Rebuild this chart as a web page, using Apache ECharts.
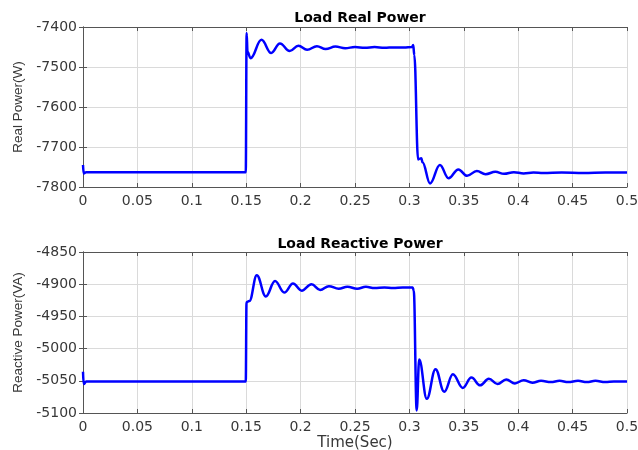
<!DOCTYPE html>
<html>
<head>
<meta charset="utf-8">
<script src="https://cdn.jsdelivr.net/npm/echarts@6/dist/echarts.min.js"></script>
<style>
  html, body { margin: 0; padding: 0; background: #fff; }
  #chart { width: 638px; height: 450px; }
</style>
</head>
<body>
<div id="chart"></div>
<script>
// values (time in s, power in W / VA)
const realTime = [0, 0.0006, 0.003, 0.1496, 0.1504, 0.1512, 0.154, 0.164, 0.173, 0.181, 0.190, 0.198,
  0.206, 0.215, 0.223, 0.232, 0.241, 0.250, 0.259, 0.268, 0.277, 0.286, 0.295, 0.3025, 0.3035, 0.3045,
  0.308, 0.311, 0.312, 0.319, 0.328, 0.336, 0.345, 0.353, 0.362, 0.370, 0.379, 0.387, 0.396, 0.405,
  0.414, 0.423, 0.440, 0.460, 0.480, 0.5]
const realPower = [-7745, -7766, -7763, -7763, -7415, -7462, -7478, -7432, -7465, -7441, -7460, -7447,
  -7457, -7448, -7455, -7449, -7453, -7450, -7452, -7450, -7452, -7451, -7451, -7450, -7445, -7470,
  -7731, -7728, -7738, -7791, -7745, -7778, -7756, -7772, -7760, -7768, -7762, -7767, -7763, -7766,
  -7764, -7765, -7764, -7765, -7764, -7764]

const reactTime = [0, 0.0006, 0.003, 0.1496, 0.1503, 0.153, 0.1597, 0.168, 0.1765, 0.185, 0.193, 0.201,
  0.210, 0.218, 0.226, 0.235, 0.243, 0.252, 0.260, 0.268, 0.277, 0.285, 0.294, 0.303, 0.304, 0.3067,
  0.309, 0.316, 0.324, 0.332, 0.340, 0.349, 0.357, 0.365, 0.373, 0.381, 0.389, 0.397, 0.405, 0.413,
  0.421, 0.430, 0.438, 0.446, 0.455, 0.463, 0.471, 0.480, 0.488, 0.5]
const reactPower = [-5036, -5055, -5051, -5051, -4928, -4926, -4886, -4919, -4895, -4913, -4899, -4910,
  -4900, -4909, -4903, -4907, -4904, -4907, -4904, -4906, -4905, -4906, -4905, -4905, -4910, -5096,
  -5017, -5078, -5032, -5067, -5040, -5061, -5045, -5057, -5047, -5055, -5048, -5054, -5049, -5053,
  -5050, -5052, -5050, -5052, -5050, -5052, -5050, -5052, -5051, -5051]

const titles = ['Load Real Power', 'Load Reactive Power']
const yNames = ['Real Power(W)', 'Reactive Power(VA)']

const font = 'DejaVu Sans'
const textColor = '#383838'
const axisColor = '#555'

let myChart = echarts.init(document.getElementById('chart'), null, {renderer: 'canvas'})

function pairs (xs, ys) {
  return xs.map((x, i) => [x, ys[i]])
}

function xAx (grid, top, name) {
  return {
    type: 'value',
    gridIndex: grid,
    position: top ? 'top' : 'bottom',
    min: 0,
    max: 0.5,
    interval: 0.05,
    name: name || '',
    nameLocation: 'middle',
    nameGap: 23,
    nameTextStyle: {fontFamily: font, fontSize: 15, color: textColor},
    axisLine: {show: true, onZero: false, lineStyle: {color: axisColor, width: 1}},
    axisTick: {show: true, inside: true, length: 4, lineStyle: {color: axisColor}},
    axisLabel: {
      show: !top,
      fontFamily: font,
      fontSize: 14,
      color: textColor,
      margin: 7,
      formatter: v => String(+v.toFixed(2))
    },
    splitLine: {show: !top, lineStyle: {color: '#dadada', width: 1}}
  }
}

function yAx (grid, right, min, max, step, name) {
  return {
    type: 'value',
    gridIndex: grid,
    position: right ? 'right' : 'left',
    min: min,
    max: max,
    interval: step,
    name: name || '',
    nameLocation: 'middle',
    nameGap: 54,
    nameTextStyle: {fontFamily: 'Liberation Sans', fontSize: 13.5, color: textColor},
    axisLine: {show: true, lineStyle: {color: axisColor, width: 1}},
    axisTick: {show: true, inside: true, length: 4, lineStyle: {color: axisColor}},
    axisLabel: {
      show: !right,
      fontFamily: font,
      fontSize: 14,
      color: textColor,
      margin: 6,
      formatter: v => String(v)
    },
    splitLine: {show: !right, lineStyle: {color: '#dadada', width: 1}}
  }
}

function lineSeries (grid, data) {
  return {
    type: 'line',
    xAxisIndex: grid * 2,
    yAxisIndex: grid * 2,
    data: data,
    showSymbol: false,
    smooth: 0.4,
    smoothMonotone: 'x',
    lineStyle: {color: '#0000ff', width: 2.5},
    itemStyle: {color: '#0000ff'}
  }
}

myChart.setOption({
  animation: false,
  backgroundColor: '#fff',
  title: [
    {text: titles[0], left: 355, top: 6, textAlign: 'center',
      textStyle: {fontFamily: font, fontSize: 14, fontWeight: 'bold', color: '#000'}},
    {text: titles[1], left: 355, top: 232, textAlign: 'center',
      textStyle: {fontFamily: font, fontSize: 14, fontWeight: 'bold', color: '#000'}}
  ],
  grid: [
    {left: 83, right: 11, top: 27, height: 160, outerBoundsMode: 'none'},
    {left: 83, right: 11, top: 252, height: 161, outerBoundsMode: 'none'}
  ],
  xAxis: [xAx(0, false), xAx(0, true), xAx(1, false, 'Time(Sec)'), xAx(1, true)],
  yAxis: [
    yAx(0, false, -7800, -7400, 100, yNames[0]),
    yAx(0, true, -7800, -7400, 100),
    yAx(1, false, -5100, -4850, 50, yNames[1]),
    yAx(1, true, -5100, -4850, 50)
  ],
  series: [
    lineSeries(0, pairs(realTime, realPower)),
    lineSeries(1, pairs(reactTime, reactPower))
  ]
})
</script>
</body>
</html>
